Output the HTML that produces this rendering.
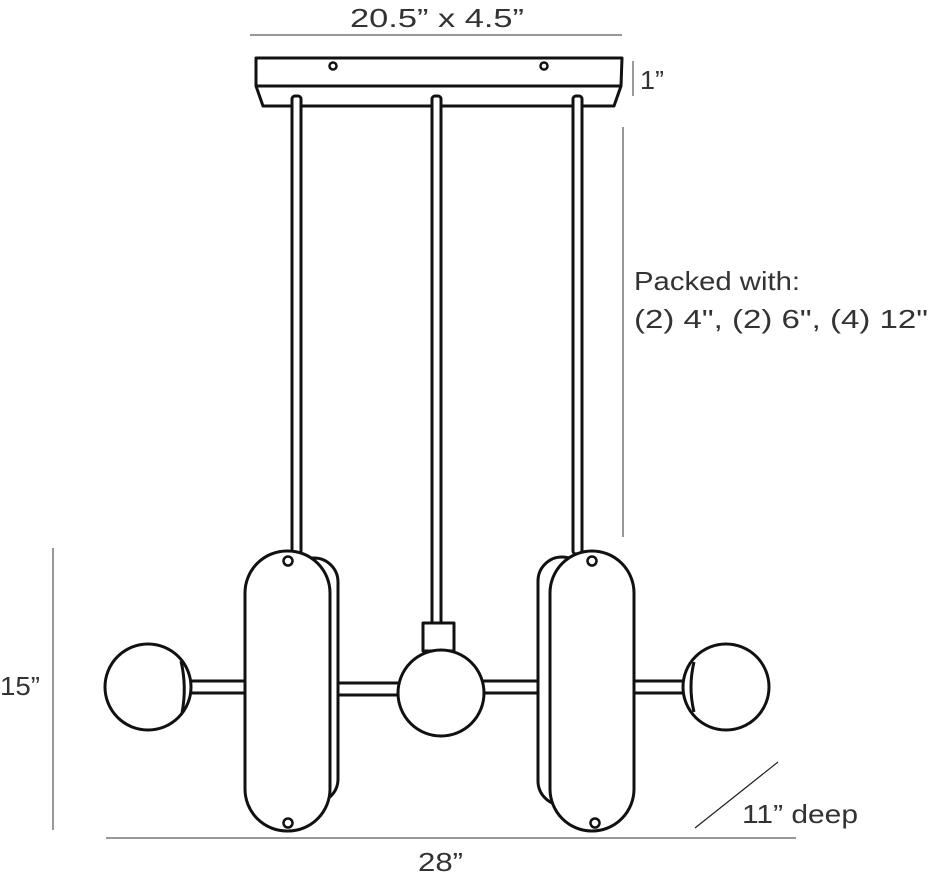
<!DOCTYPE html>
<html><head><meta charset="utf-8"><style>
html,body{margin:0;padding:0;background:#fff;}
svg{display:block;}
text{font-family:"Liberation Sans",sans-serif;fill:#333;}
</style></head><body>
<svg width="929" height="880" viewBox="0 0 929 880" xmlns="http://www.w3.org/2000/svg">
<g stroke="#777" stroke-width="1.5" fill="none">
<line x1="250" y1="35" x2="622" y2="35"/>
<line x1="633" y1="61" x2="633" y2="96"/>
<line x1="623" y1="127" x2="623" y2="537"/>
<line x1="53" y1="548" x2="53" y2="830"/>
<line x1="106" y1="838" x2="796" y2="838"/>
</g>
<line x1="695" y1="828" x2="778" y2="762" stroke="#222" stroke-width="1.2"/>
<g font-size="26">
<text x="437" y="27" text-anchor="middle" textLength="174" lengthAdjust="spacingAndGlyphs">20.5” x 4.5”</text>
<text x="640" y="89" textLength="24" lengthAdjust="spacingAndGlyphs">1”</text>
<text x="634" y="290" textLength="166" lengthAdjust="spacingAndGlyphs">Packed with:</text>
<text x="634" y="328" textLength="294" lengthAdjust="spacingAndGlyphs">(2) 4", (2) 6", (4) 12"</text>
<text x="0" y="695" textLength="40" lengthAdjust="spacingAndGlyphs">15”</text>
<text x="418" y="871" textLength="45" lengthAdjust="spacingAndGlyphs">28”</text>
<text x="742" y="823" textLength="116" lengthAdjust="spacingAndGlyphs">11” deep</text>
</g>
<g stroke="#111" stroke-width="3" fill="#fff" stroke-linejoin="round">
<path d="M256 58 L622 58 L621 86 L614 106 L263 106 L256 86 Z"/>
<line x1="256" y1="86" x2="621" y2="86"/>
<circle cx="333" cy="66" r="3.5" stroke-width="2.5"/>
<circle cx="544" cy="66" r="3.5" stroke-width="2.5"/>
<rect x="292" y="96" width="9" height="458" rx="3"/>
<rect x="432" y="96" width="9" height="530" rx="3"/>
<rect x="573" y="96" width="9" height="458" rx="3"/>
<rect x="185" y="681" width="65" height="12"/>
<rect x="325" y="683" width="80" height="12"/>
<rect x="475" y="681" width="80" height="12"/>
<rect x="628" y="681" width="60" height="12"/>
<rect x="290" y="558" width="48" height="245" rx="24"/>
<rect x="245" y="551" width="85" height="280" rx="42"/>
<circle cx="288" cy="561" r="4.5" stroke-width="2.5"/>
<circle cx="288" cy="823" r="4.5" stroke-width="2.5"/>
<rect x="538" y="557" width="48" height="248" rx="24"/>
<rect x="550" y="551" width="84" height="280" rx="42"/>
<circle cx="592" cy="561" r="4.5" stroke-width="2.5"/>
<circle cx="595" cy="823" r="4.5" stroke-width="2.5"/>
<circle cx="148" cy="687" r="43"/>
<path d="M181 661 Q187 687 182 713" fill="none"/>
<circle cx="726" cy="687" r="43"/>
<path d="M694 662 Q688 687 694 712" fill="none"/>
<rect x="423" y="623" width="31" height="28"/>
<circle cx="441" cy="693" r="43"/>
</g>
</svg>
</body></html>
